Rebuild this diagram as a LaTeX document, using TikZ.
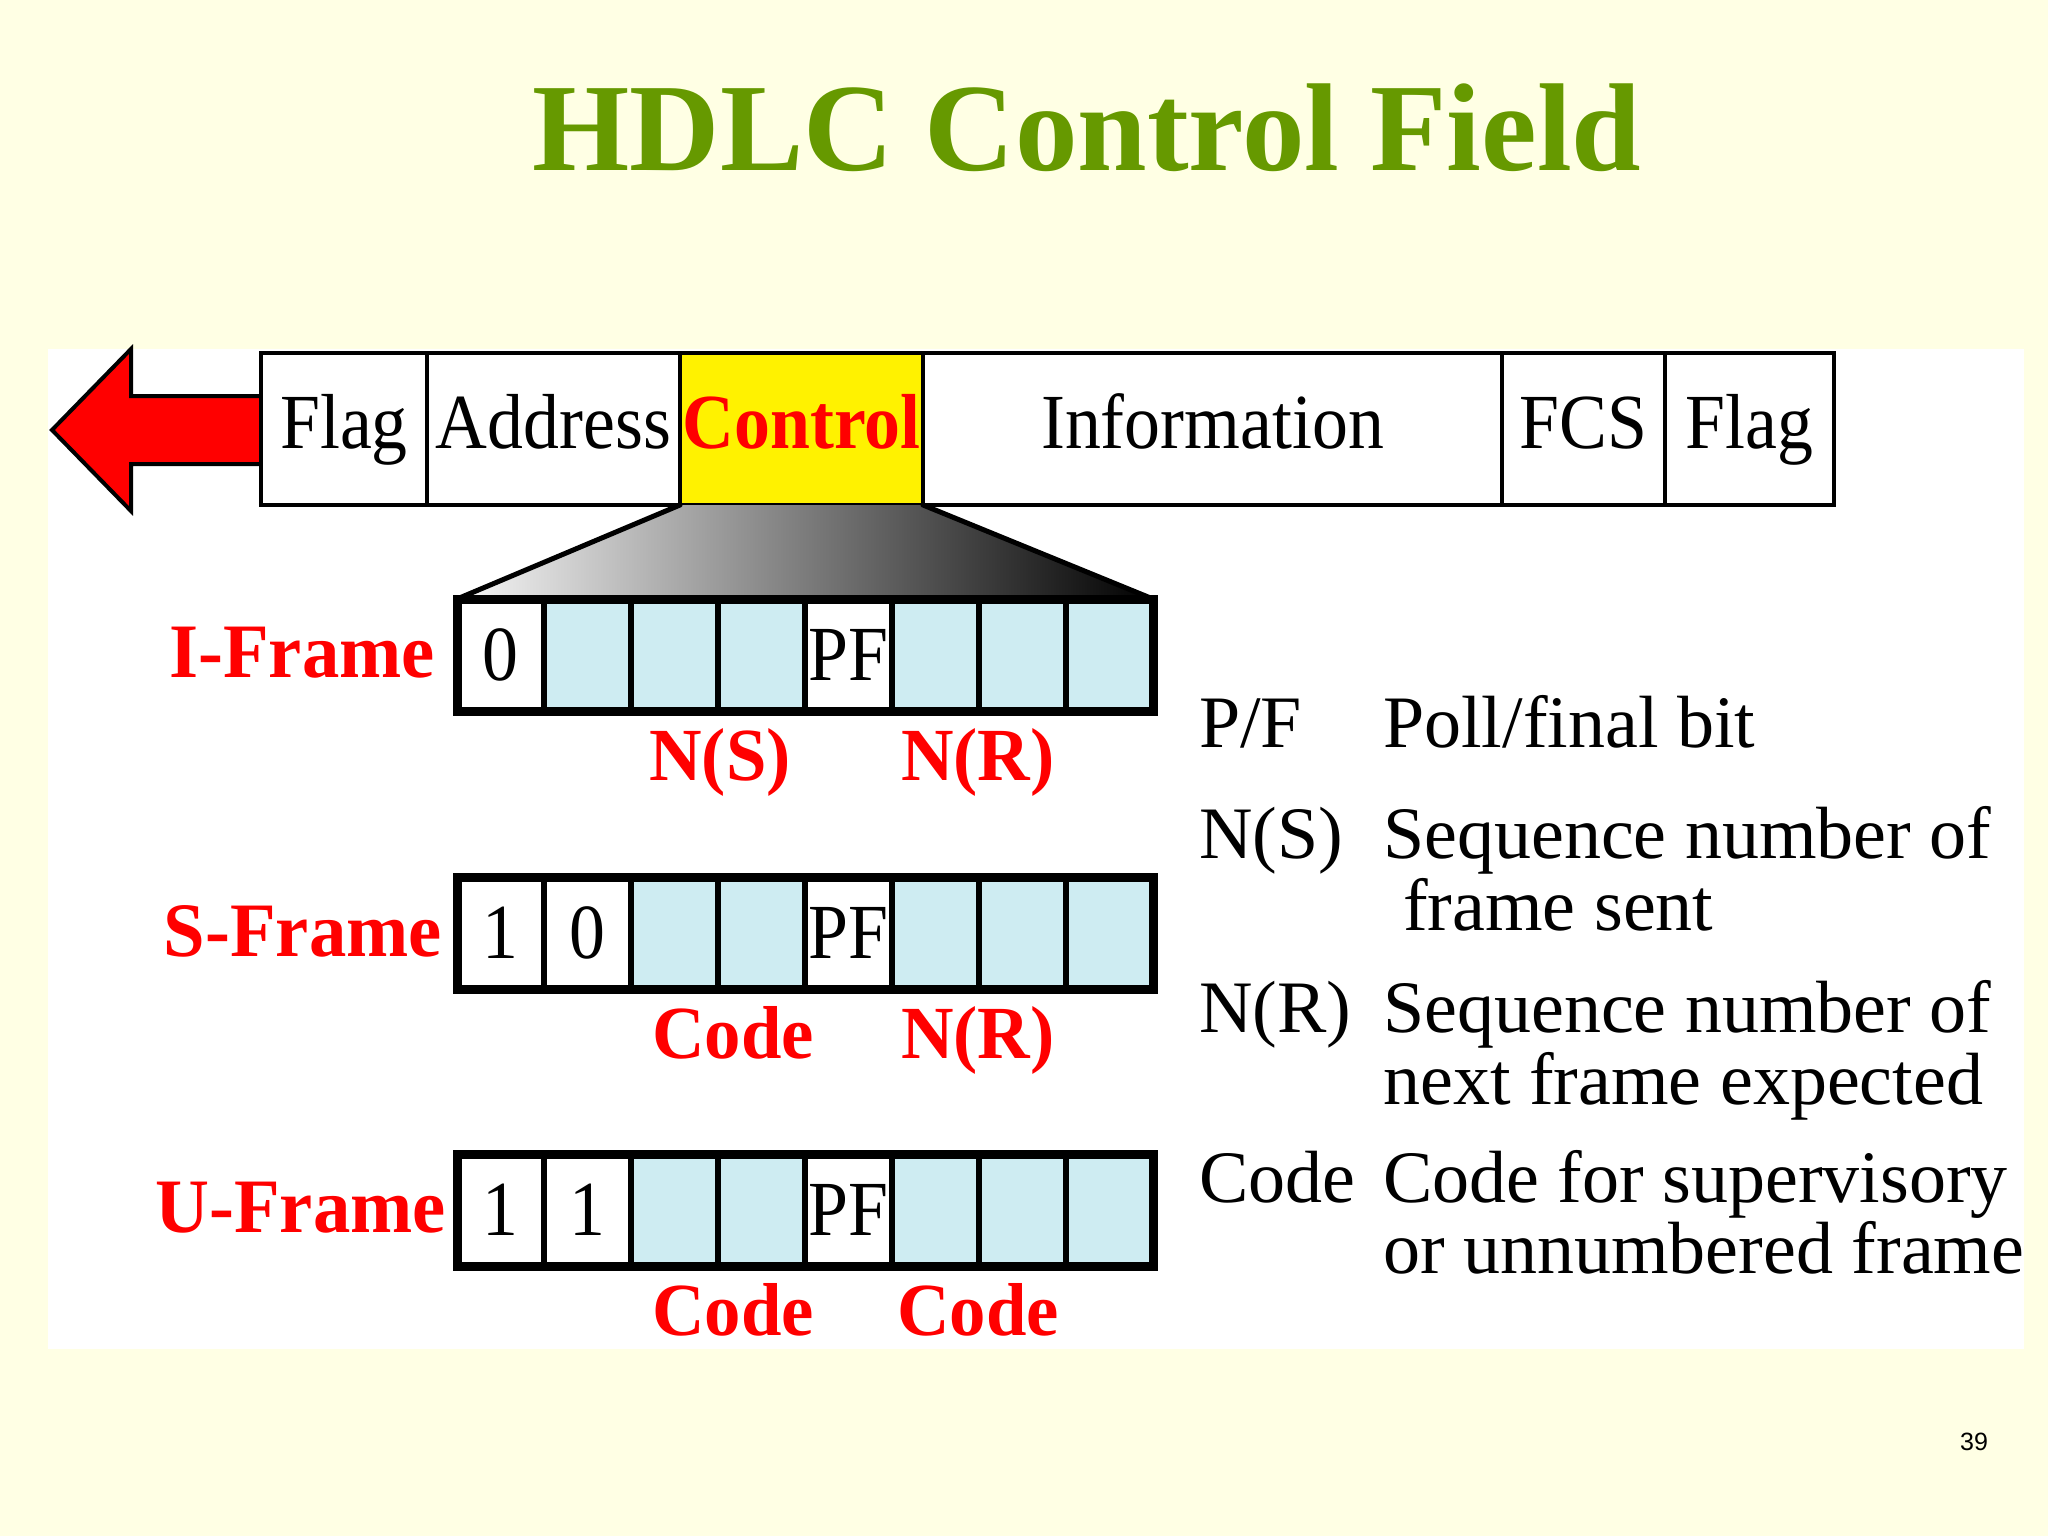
\documentclass[tikz,border=0pt]{standalone}
\usepackage{fontspec}
\setmainfont{Liberation Serif}
\newfontfamily\condfont[FakeStretch=0.92]{Liberation Serif}
\newfontfamily\lblfont[FakeStretch=0.97]{Liberation Serif}
\newfontfamily\pgnfont{Liberation Sans}
\definecolor{bgyellow}{RGB}{255,255,228}
\definecolor{titlegreen}{RGB}{102,153,0}
\definecolor{bitblue}{RGB}{206,236,242}
\definecolor{hred}{RGB}{255,0,0}
\begin{document}
\begin{tikzpicture}[x=1pt,y=-1pt,
  barcell/.style={draw=black, line width=3.5pt, minimum height=152pt, inner sep=0pt, outer sep=0pt,
    font=\condfont\fontsize{78}{80}\selectfont, text height=52pt, text depth=14pt},
  bitcell/.style={draw=black, line width=6pt, minimum width=87pt, minimum height=112pt, inner sep=0pt, outer sep=0pt,
    font=\condfont\fontsize{78}{80}\selectfont, text height=51pt, text depth=0pt},
  framelbl/.style={text=hred, inner sep=0pt, anchor=base east, font=\lblfont\bfseries\fontsize{77}{80}\selectfont},
  fieldlbl/.style={text=hred, inner sep=0pt, anchor=base, font=\lblfont\bfseries\fontsize{75}{80}\selectfont},
  legend/.style={inner sep=0pt, anchor=base west, font=\fontsize{74}{76}\selectfont},
]
\useasboundingbox (0,0) rectangle (2048,1536);
\fill[bgyellow] (0,0) rectangle (2048,1536);
\fill[white] (48,349) rectangle (2024,1349);

% title
\node[inner sep=0pt, anchor=base, text=titlegreen, font=\bfseries\fontsize{125}{130}\selectfont] (title) at (1087,170) {HDLC Control Field};

% arrow
\draw[line width=4pt, fill=hred, line join=miter] (261,396) -- (131,396) -- (131,349) -- (52,430) -- (131,511) -- (131,464) -- (261,464);

% top bar
\node[barcell, fill=white, minimum width=166pt] (flag1) at (344,429) {Flag};
\node[barcell, fill=white, minimum width=253pt] (addr) at (553.5,429) {Address};
\node[barcell, fill=yellow, minimum width=243pt, text=hred, font=\condfont\bfseries\fontsize{78}{80}\selectfont] (ctrl) at (801.5,429) {Control};
\node[barcell, fill=white, minimum width=579pt] (info) at (1212.5,429) {Information};
\node[barcell, fill=white, minimum width=163pt] (fcs) at (1583.5,429) {FCS};
\node[barcell, fill=white, minimum width=169pt] (flag2) at (1749.5,429) {Flag};
\draw[line width=4pt] (flag1.north west) rectangle (flag2.south east);

% frames
\foreach \k/\t/\f in {1/0/white,2//bitblue,3//bitblue,4//bitblue,5/PF/white,6//bitblue,7//bitblue,8//bitblue}
  \node[bitcell, fill=\f] (i\k) at ({500.5+87*(\k-1)},655) {\t};
\foreach \k/\t/\f in {1/1/white,2/0/white,3//bitblue,4//bitblue,5/PF/white,6//bitblue,7//bitblue,8//bitblue}
  \node[bitcell, fill=\f] (s\k) at ({500.5+87*(\k-1)},933) {\t};
\foreach \k/\t/\f in {1/1/white,2/1/white,3//bitblue,4//bitblue,5/PF/white,6//bitblue,7//bitblue,8//bitblue}
  \node[bitcell, fill=\f] (u\k) at ({500.5+87*(\k-1)},1210) {\t};
\draw[line width=9pt] (i1.north west) rectangle (i8.south east);
\draw[line width=9pt] (s1.north west) rectangle (s8.south east);
\draw[line width=9pt] (u1.north west) rectangle (u8.south east);

% trapezoid
\shade[left color=gray!6, right color=black] (ctrl.south west) -- (ctrl.south east) -- (i8.north east) -- (i1.north west) -- cycle;
\draw[line width=5pt, line cap=round] (ctrl.south west) -- (i1.north west);
\draw[line width=5pt, line cap=round] (ctrl.south east) -- (i8.north east);
\draw[line width=9pt] (i1.north west) -- (i8.north east);

% frame labels
\node[framelbl] (ilbl) at (435,677) {I-Frame};
\node[framelbl] (slbl) at (442,956) {S-Frame};
\node[framelbl] (ulbl) at (446,1232) {U-Frame};

% field labels
\node[fieldlbl] (ins) at (720,780) {N(S)};
\node[fieldlbl] (inr) at (978,780) {N(R)};
\node[fieldlbl] (scode) at (733,1058) {Code};
\node[fieldlbl] (snr) at (978,1058) {N(R)};
\node[fieldlbl] (ucode1) at (733,1335) {Code};
\node[fieldlbl] (ucode2) at (978,1335) {Code};

% legend
\node[legend] (lpf) at (1199,747) {P/F};
\node[legend] (dpf) at (1383,747) {Poll/final bit};
\node[legend] (lns) at (1199,858) {N(S)};
\node[legend] (dns1) at (1383,858) {Sequence number of};
\node[legend] (dns2) at (1403,930) {frame sent};
\node[legend] (lnr) at (1199,1032) {N(R)};
\node[legend] (dnr1) at (1383,1032) {Sequence number of};
\node[legend] (dnr2) at (1383,1104) {next frame expected};
\node[legend] (lcode) at (1199,1202) {Code};
\node[legend] (dcode1) at (1383,1202) {Code for supervisory};
\node[legend] (dcode2) at (1383,1273) {or unnumbered frame};

% page number
\node[inner sep=0pt, font=\pgnfont\fontsize{25}{28}\selectfont] (pg) at (1974,1442) {39};
\end{tikzpicture}
\end{document}
